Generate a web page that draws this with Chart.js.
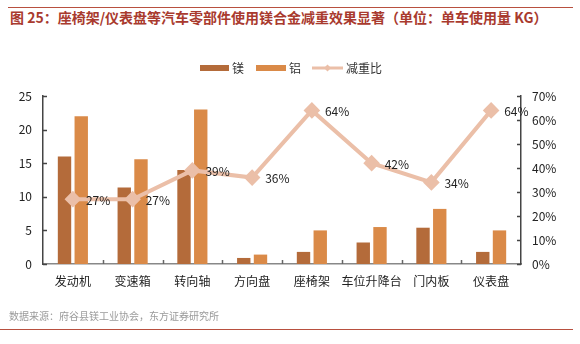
<!DOCTYPE html>
<html>
<head>
<meta charset="utf-8">
<script src="https://cdn.jsdelivr.net/npm/chart.js@4"></script>
<style>
  html, body { margin:0; padding:0; background:#fff; }
  body { width:580px; height:344px; position:relative; overflow:hidden;
         font-family:"Noto Sans CJK SC", "Noto Sans", sans-serif; }
  .rule { position:absolute; height:1px; background:#B8503F; }
  #title { position:absolute; left:10px; top:7px; font-size:14px; font-weight:bold;
           color:#A93A2E; white-space:nowrap; }
  #source { position:absolute; left:9px; top:308px; font-size:10px; color:#9a9a9a; white-space:nowrap; }
  #c { position:absolute; left:0; top:0; }
</style>
</head>
<body>
<div class="rule" style="left:8px;width:565px;top:7px"></div>
<div id="title">图 25：座椅架/仪表盘等汽车零部件使用镁合金减重效果显著（单位：单车使用量 KG）</div>
<canvas id="c" width="580" height="344"></canvas>
<div id="source">数据来源：府谷县镁工业协会，东方证券研究所</div>
<div class="rule" style="left:0;width:573px;top:329px"></div>
<script>
const categories = ["发动机","变速箱","转向轴","方向盘","座椅架","车位升降台","门内板","仪表盘"];
const magnesium = [16, 11.4, 14, 0.9, 1.8, 3.2, 5.4, 1.8];
const aluminum = [22, 15.6, 23, 1.4, 5, 5.5, 8.2, 5];
const reduction = [27, 27, 39, 36, 64, 42, 34, 64];
const leftTicks = [0, 5, 10, 15, 20, 25];
const rightTicks = [0, 10, 20, 30, 40, 50, 60, 70];

const MG = "#B46B3A", AL = "#DA8A48", LINE = "#EBBFA8";
const FONT = "\"Noto Sans CJK SC\", \"Noto Sans\", sans-serif";

// inward axis ticks, point labels, legend
const extras = {
  id: "extras",
  afterDatasetsDraw(chart){
    const ctx = chart.ctx, a = chart.chartArea;
    const x = chart.scales.x, y = chart.scales.y, y1 = chart.scales.y1;
    ctx.save();
    ctx.lineWidth = 1.5;
    ctx.strokeStyle = "#444";
    ctx.beginPath();
    leftTicks.forEach(v => { const py = Math.round(y.getPixelForValue(v)) + .5; ctx.moveTo(a.left, py); ctx.lineTo(a.left + 4, py); });
    rightTicks.forEach(v => { const py = Math.round(y1.getPixelForValue(v)) + .5; ctx.moveTo(a.right, py); ctx.lineTo(a.right - 4, py); });
    ctx.stroke();
    ctx.strokeStyle = "#666";
    ctx.beginPath();
    const step = (a.right - a.left) / categories.length;
    for(let i = 1; i < categories.length; i++){
      const px = Math.round(a.left + step * i) + .5;
      ctx.moveTo(px, a.bottom); ctx.lineTo(px, a.bottom - 4);
    }
    ctx.stroke();

    // value labels of the line
    const meta = chart.getDatasetMeta(2);
    ctx.fillStyle = "#222";
    ctx.font = "12px " + FONT;
    ctx.textAlign = "left";
    ctx.textBaseline = "middle";
    meta.data.forEach((pt, i) => ctx.fillText(reduction[i] + "%", pt.x + 13, pt.y + 1));

    // legend
    ctx.font = "12px " + FONT;
    ctx.fillStyle = MG; ctx.fillRect(200, 65, 29, 6);
    ctx.fillStyle = AL; ctx.fillRect(256, 65, 30, 6);
    ctx.fillStyle = "#333";
    ctx.fillText("镁", 232, 68);
    ctx.fillText("铝", 289, 68);
    ctx.strokeStyle = LINE; ctx.lineWidth = 3;
    ctx.beginPath(); ctx.moveTo(312, 68); ctx.lineTo(343, 68); ctx.stroke();
    ctx.fillStyle = LINE;
    ctx.beginPath(); ctx.moveTo(327.5, 64.5); ctx.lineTo(331, 68); ctx.lineTo(327.5, 71.5); ctx.lineTo(324, 68); ctx.closePath(); ctx.fill();
    ctx.fillStyle = "#333";
    ctx.fillText("减重比", 346, 68);
    ctx.restore();
  }
};

new Chart(document.getElementById("c"), {
  type: "bar",
  data: {
    labels: categories,
    datasets: [
      { label: "镁", data: magnesium, backgroundColor: MG, yAxisID: "y",
        categoryPercentage: 0.56, barPercentage: 0.8, order: 2 },
      { label: "铝", data: aluminum, backgroundColor: AL, yAxisID: "y",
        categoryPercentage: 0.56, barPercentage: 0.8, order: 2 },
      { type: "line", label: "减重比", data: reduction, yAxisID: "y1",
        borderColor: LINE, backgroundColor: LINE, borderWidth: 4,
        pointStyle: "rectRot", pointRadius: 5.5, pointHoverRadius: 5.5,
        tension: 0, order: 1 }
    ]
  },
  options: {
    responsive: false,
    animation: false,
    events: [],
    layout: { padding: { top: 96, left: 0, right: 0, bottom: 0 } },
    plugins: { legend: { display: false }, tooltip: { enabled: false }, title: { display: false } },
    scales: {
      x: {
        grid: { display: false, drawTicks: false },
        border: { display: true, color: "#888", width: 1.5 },
        ticks: { color: "#222", font: { size: 12, family: FONT }, padding: 10, maxRotation: 0, autoSkip: false },
        afterFit: s => { s.height = 80; }
      },
      y: {
        position: "left", min: 0, max: 25,
        grid: { display: false, drawTicks: false },
        border: { display: true, color: "#444", width: 1.5 },
        ticks: { stepSize: 5, color: "#222", font: { size: 12, family: FONT }, padding: 11 },
        afterFit: s => { s.width = 43; }
      },
      y1: {
        position: "right", min: 0, max: 70,
        grid: { display: false, drawTicks: false },
        border: { display: true, color: "#444", width: 1.5 },
        ticks: { stepSize: 10, color: "#222", font: { size: 12, family: FONT }, padding: 11,
                 callback: v => v + "%" },
        afterFit: s => { s.width = 59; }
      }
    }
  },
  plugins: [extras]
});
</script>
</body>
</html>
